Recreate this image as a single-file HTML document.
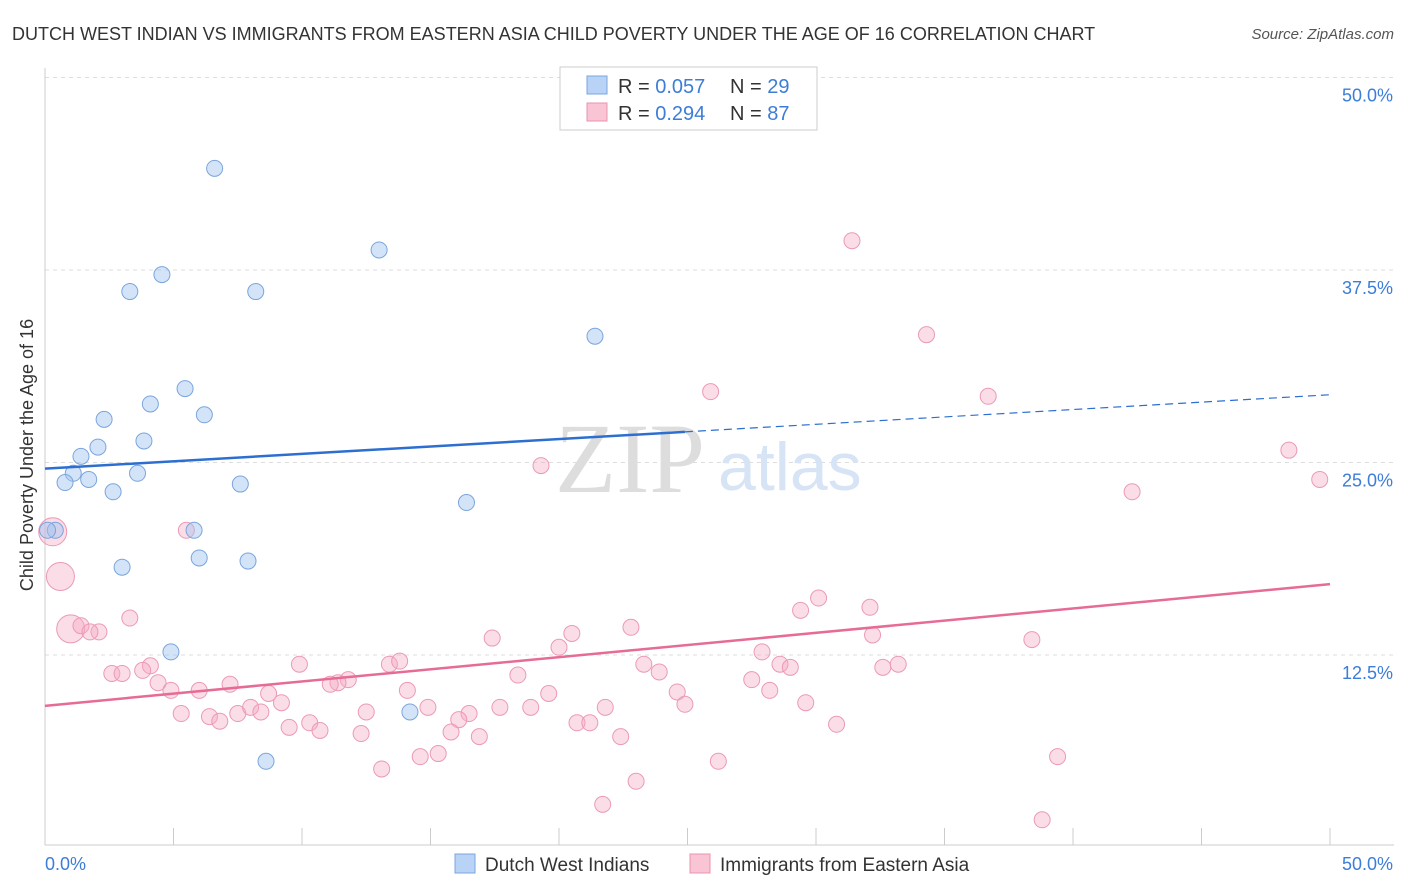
<!DOCTYPE html>
<html><head><meta charset="utf-8"><style>
body{margin:0;background:#fff;font-family:"Liberation Sans",sans-serif;}
svg{display:block}
</style></head><body>
<svg id="chart" width="1406" height="892">
<text x="12" y="40" font-size="18" fill="#333">DUTCH WEST INDIAN VS IMMIGRANTS FROM EASTERN ASIA CHILD POVERTY UNDER THE AGE OF 16 CORRELATION CHART</text>
<text x="1394" y="39" font-size="15" fill="#555" font-style="italic" text-anchor="end">Source: ZipAtlas.com</text>
<text transform="translate(33,455) rotate(-90)" font-size="18" fill="#333" text-anchor="middle">Child Poverty Under the Age of 16</text>
<g id="grid"></g>
<text x="555" y="492" font-size="100" fill="#ddd" font-family="Liberation Serif">ZIP</text>
<text x="718" y="490" font-size="68" fill="#d6e4f5">atlas</text>
<g id="marks"></g>
<g>
<rect x="560" y="67" width="257" height="63" fill="#fff" stroke="#ccc"/>
<rect x="587" y="76" width="20" height="18" fill="#b8d3f5" stroke="#7ba6e0"/>
<rect x="587" y="103" width="20" height="18" fill="#f9c4d4" stroke="#ec93b0"/>
<text x="618" y="93" font-size="20" fill="#333">R = <tspan fill="#3b7dd8">0.057</tspan></text>
<text x="730" y="93" font-size="20" fill="#333">N = <tspan fill="#3b7dd8">29</tspan></text>
<text x="618" y="120" font-size="20" fill="#333">R = <tspan fill="#3b7dd8">0.294</tspan></text>
<text x="730" y="120" font-size="20" fill="#333">N = <tspan fill="#3b7dd8">87</tspan></text>
</g>
<g>
<rect x="455" y="854" width="20" height="19" fill="#b8d3f5" stroke="#7ba6e0"/>
<text x="485" y="871" font-size="19" fill="#333">Dutch West Indians</text>
<rect x="690" y="854" width="20" height="19" fill="#f9c4d4" stroke="#ec93b0"/>
<text x="720" y="871" font-size="19" fill="#333">Immigrants from Eastern Asia</text>
</g>
</svg>
<script>
const xTicks=[0,5,10,15,20,25,30,35,40,45,50];
const yTicks=[12.5,25,37.5,50];
const yTickLabels=["12.5%","25.0%","37.5%","50.0%"];
const blueX=[6.6,13.0,4.55,3.3,8.2,21.4,5.45,4.1,6.2,2.3,3.85,2.06,1.4,1.1,0.78,1.7,3.6,2.65,7.6,16.4,5.8,0.4,6.0,7.9,3.0,4.9,14.2,8.6,0.1];
const blueY=[44.1,38.8,37.2,36.1,36.1,33.2,29.8,28.8,28.1,27.8,26.4,26.0,25.4,24.3,23.7,23.9,24.3,23.1,23.6,22.4,20.6,20.6,18.8,18.6,18.2,12.7,8.8,5.6,20.6];
const pinkX=[31.4,34.3,25.9,36.7,48.4,49.6,42.3,19.3,5.5,0.3,0.6,3.3,1.0,1.4,2.1,1.75,30.1,29.4,32.1,32.2,38.4,17.4,20.5,22.8,20.0,27.9,28.6,29.0,32.6,33.2,23.3,23.9,18.4,9.9,13.4,13.8,4.1,3.8,2.6,3.0,4.4,4.9,7.2,6.0,11.8,11.4,11.1,8.7,9.2,14.1,19.6,24.6,24.9,27.5,28.2,29.6,5.3,6.4,6.8,7.5,8.0,8.4,12.5,14.9,16.5,16.1,17.7,18.9,21.8,20.7,21.2,9.5,10.3,10.7,12.3,15.8,16.9,22.4,30.8,14.6,15.3,39.4,26.2,13.1,23.0,21.7,38.8];
const pinkY=[39.4,33.3,29.6,29.3,25.8,23.9,23.1,24.8,20.6,20.5,17.6,14.9,14.2,14.4,14.0,14.0,16.2,15.4,15.6,13.8,13.5,13.6,13.9,14.3,13.0,12.7,11.9,11.7,11.7,11.9,11.9,11.4,11.2,11.9,11.9,12.1,11.8,11.5,11.3,11.3,10.7,10.2,10.6,10.2,10.9,10.7,10.6,10.0,9.4,10.2,10.0,10.1,9.3,10.9,10.2,9.4,8.7,8.5,8.2,8.7,9.1,8.8,8.8,9.1,8.7,8.3,9.1,9.1,9.1,8.1,8.1,7.8,8.1,7.6,7.4,7.5,7.2,7.2,8.0,5.9,6.1,5.9,5.6,5.1,4.3,2.8,1.8];
const pinkBig=[9,10,12];
const blueTrend=[24.6,29.4];
const pinkTrend=[9.2,17.1];
const blueSolidEnd=24.9;
const X=v=>45+v*25.7, Y=v=>847.5-v*15.4;
const NS="http://www.w3.org/2000/svg";
function mk(tag,attrs,parent){const e=document.createElementNS(NS,tag);for(const k in attrs)e.setAttribute(k,attrs[k]);parent.appendChild(e);return e;}
const grid=document.getElementById('grid'), marks=document.getElementById('marks');
yTicks.forEach((t,i)=>{
  const l=mk('line',{x1:45,x2:1394,y1:Y(t),y2:Y(t),stroke:'#ddd','stroke-dasharray':'4,4'},grid);
  
  
  const tx=mk('text',{x:1393,y:Y(t)+24,'font-size':18,fill:'#3b7dd8','text-anchor':'end'},grid);
  tx.textContent=yTickLabels[i];
  
  
});
const ax=mk('line',{x1:45,x2:1394,y1:845,y2:845,stroke:'#ccc'},grid);


const ay=mk('line',{x1:45,x2:45,y1:68,y2:845,stroke:'#ccc'},grid);


xTicks.forEach(t=>{
  const l=mk('line',{x1:X(t),x2:X(t),y1:828,y2:845,stroke:'#ccc'},grid);
  
  
});
const xl0=mk('text',{x:45,y:870,'font-size':18,fill:'#3b7dd8'},grid);xl0.textContent="0.0%";


const xl1=mk('text',{x:1393,y:870,'font-size':18,fill:'#3b7dd8','text-anchor':'end'},grid);xl1.textContent="50.0%";


pinkX.forEach((v,i)=>{
  const big=pinkBig.includes(i);
  const c=mk('circle',{cx:X(v),cy:Y(pinkY[i]),r:big?14:8,fill:'rgba(246,170,195,0.4)',stroke:'#eb9ab5','stroke-width':1},marks);
  
  
});
blueX.forEach((v,i)=>{
  const c=mk('circle',{cx:X(v),cy:Y(blueY[i]),r:8,fill:'rgba(160,195,240,0.45)',stroke:'#7aa5dd','stroke-width':1},marks);
  
  
});
const bslope=(blueTrend[1]-blueTrend[0])/50;
const b1=mk('line',{x1:X(0),y1:Y(blueTrend[0]),x2:X(blueSolidEnd),y2:Y(blueTrend[0]+bslope*blueSolidEnd),stroke:'#2d6fd1','stroke-width':2.5},marks);


const b2=mk('line',{x1:X(blueSolidEnd),y1:Y(blueTrend[0]+bslope*blueSolidEnd),x2:X(50),y2:Y(blueTrend[1]),stroke:'#2d6fd1','stroke-width':1.2,'stroke-dasharray':'8,5'},marks);


const p1=mk('line',{x1:X(0),y1:Y(pinkTrend[0]),x2:X(50),y2:Y(pinkTrend[1]),stroke:'#e66b97','stroke-width':2.5},marks);


</script>
</body></html>
